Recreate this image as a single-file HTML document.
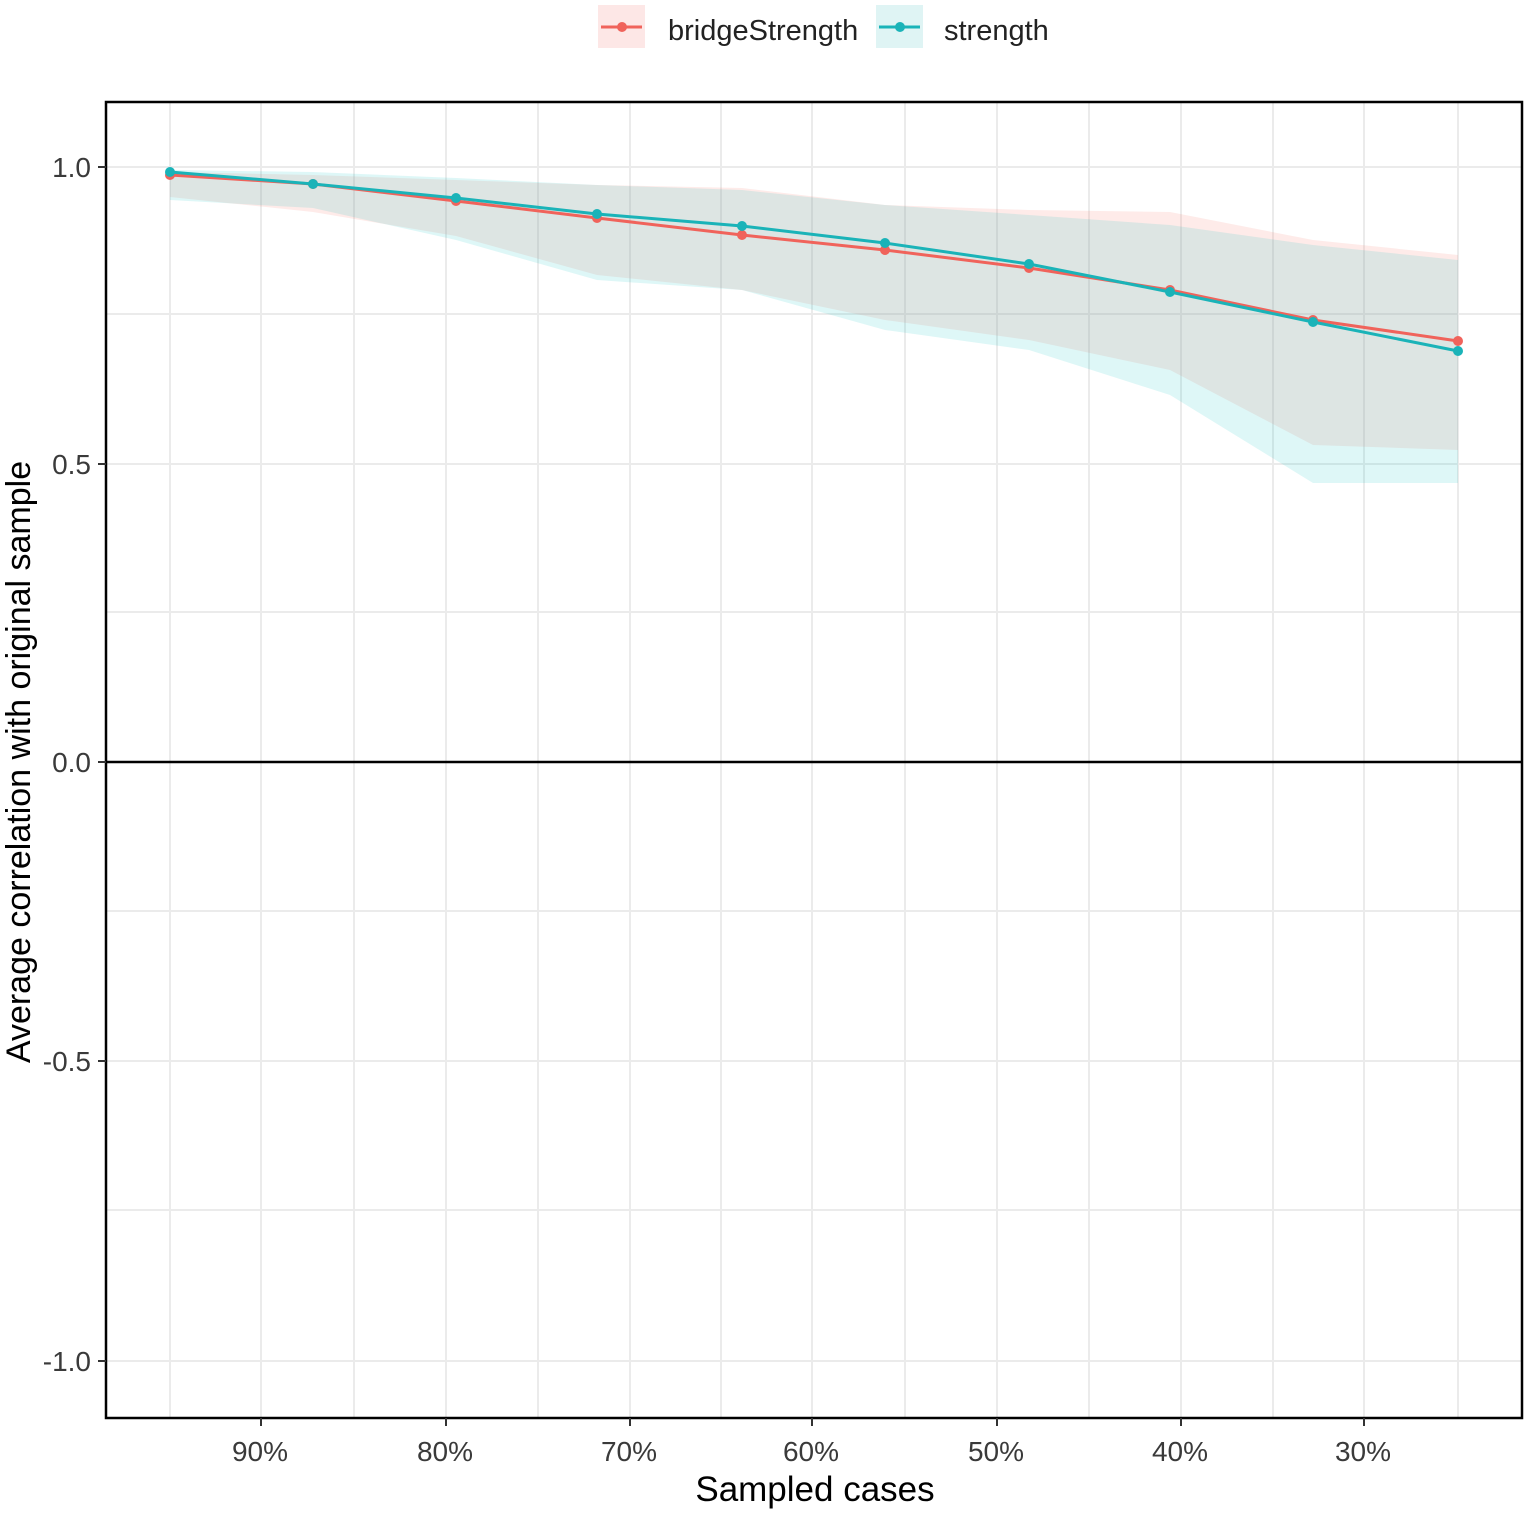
<!DOCTYPE html>
<html><head><meta charset="utf-8"><style>body{margin:0;background:#fff}svg{display:block}text{font-family:"Liberation Sans",sans-serif;fill:#222}</style></head>
<body>
<svg width="1535" height="1519" viewBox="0 0 1535 1519" xmlns="http://www.w3.org/2000/svg">
<rect width="1535" height="1519" fill="#fff"/>
<rect x="598" y="5" width="47" height="43" fill="#fde7e6"/>
<line x1="601" y1="27" x2="642" y2="27" stroke="#f0635b" stroke-width="3"/>
<circle cx="622" cy="27" r="5" fill="#f0635b"/>
<text x="668" y="40" font-size="29">bridgeStrength</text>
<rect x="876" y="5" width="47" height="43" fill="#dff4f4"/>
<line x1="879" y1="27" x2="920" y2="27" stroke="#1ab3b8" stroke-width="3"/>
<circle cx="900" cy="27" r="5" fill="#1ab3b8"/>
<text x="944" y="40" font-size="29">strength</text>
<g stroke="#ebebeb" stroke-width="2">
<line x1="106" x2="1522" y1="314" y2="314"/><line x1="106" x2="1522" y1="612" y2="612"/><line x1="106" x2="1522" y1="911" y2="911"/><line x1="106" x2="1522" y1="1210" y2="1210"/>
<line x1="106" x2="1522" y1="167" y2="167"/><line x1="106" x2="1522" y1="464" y2="464"/><line x1="106" x2="1522" y1="1061" y2="1061"/><line x1="106" x2="1522" y1="1361" y2="1361"/>
<line y1="102" y2="1418" x1="170" x2="170"/><line y1="102" y2="1418" x1="261" x2="261"/><line y1="102" y2="1418" x1="354" x2="354"/><line y1="102" y2="1418" x1="446" x2="446"/><line y1="102" y2="1418" x1="538" x2="538"/><line y1="102" y2="1418" x1="630" x2="630"/><line y1="102" y2="1418" x1="721" x2="721"/><line y1="102" y2="1418" x1="812" x2="812"/><line y1="102" y2="1418" x1="905" x2="905"/><line y1="102" y2="1418" x1="997" x2="997"/><line y1="102" y2="1418" x1="1089" x2="1089"/><line y1="102" y2="1418" x1="1181" x2="1181"/><line y1="102" y2="1418" x1="1273" x2="1273"/><line y1="102" y2="1418" x1="1364" x2="1364"/><line y1="102" y2="1418" x1="1458" x2="1458"/>
</g>
<polygon fill="#f8766d" fill-opacity="0.15" points="170,172 313,175 456,180 597,185 742,188 885,205 1029,210 1170,212 1313,240 1458,255 1458,450 1313,445 1170,370 1029,340 885,320 742,290 597,275 456,236 313,212 170,197"/>
<polygon fill="#00bfc4" fill-opacity="0.13" points="170,170 313,172 456,178 597,185 742,190 885,205 1029,215 1170,225 1313,245 1458,260 1458,483 1313,483 1170,395 1029,350 885,330 742,290 597,280 456,240 313,208 170,200"/>
<line x1="106" x2="1522" y1="762" y2="762" stroke="#000" stroke-width="2.5"/>
<polyline fill="none" stroke="#f0635b" stroke-width="3" points="170,175 313,184 456,201 597,218 742,235 885,250 1029,268 1170,290 1313,320 1458,341"/>
<g fill="#f0635b"><circle cx="170" cy="175" r="5"/><circle cx="313" cy="184" r="5"/><circle cx="456" cy="201" r="5"/><circle cx="597" cy="218" r="5"/><circle cx="742" cy="235" r="5"/><circle cx="885" cy="250" r="5"/><circle cx="1029" cy="268" r="5"/><circle cx="1170" cy="290" r="5"/><circle cx="1313" cy="320" r="5"/><circle cx="1458" cy="341" r="5"/></g>
<polyline fill="none" stroke="#1ab3b8" stroke-width="3" points="170,172 313,184 456,198 597,214 742,226 885,243 1029,264 1170,292 1313,322 1458,351"/>
<g fill="#1ab3b8"><circle cx="170" cy="172" r="5"/><circle cx="313" cy="184" r="5"/><circle cx="456" cy="198" r="5"/><circle cx="597" cy="214" r="5"/><circle cx="742" cy="226" r="5"/><circle cx="885" cy="243" r="5"/><circle cx="1029" cy="264" r="5"/><circle cx="1170" cy="292" r="5"/><circle cx="1313" cy="322" r="5"/><circle cx="1458" cy="351" r="5"/></g>
<rect x="106" y="102" width="1416" height="1316" fill="none" stroke="#000" stroke-width="2.5"/>
<g stroke="#333" stroke-width="2">
<line x1="98" x2="106" y1="167" y2="167"/><line x1="98" x2="106" y1="464" y2="464"/><line x1="98" x2="106" y1="762" y2="762"/><line x1="98" x2="106" y1="1061" y2="1061"/><line x1="98" x2="106" y1="1361" y2="1361"/>
<line y1="1418" y2="1426" x1="261" x2="261"/><line y1="1418" y2="1426" x1="446" x2="446"/><line y1="1418" y2="1426" x1="630" x2="630"/><line y1="1418" y2="1426" x1="812" x2="812"/><line y1="1418" y2="1426" x1="997" x2="997"/><line y1="1418" y2="1426" x1="1181" x2="1181"/><line y1="1418" y2="1426" x1="1364" x2="1364"/>
</g>
<g font-size="28" text-anchor="end">
<text x="91" y="177" style="fill:#3a3a3a">1.0</text><text x="91" y="474" style="fill:#3a3a3a">0.5</text><text x="91" y="772" style="fill:#3a3a3a">0.0</text><text x="91" y="1071" style="fill:#3a3a3a">-0.5</text><text x="91" y="1371" style="fill:#3a3a3a">-1.0</text>
</g>
<g font-size="28" text-anchor="middle">
<text x="260" y="1461" style="fill:#3a3a3a">90%</text><text x="445" y="1461" style="fill:#3a3a3a">80%</text><text x="629" y="1461" style="fill:#3a3a3a">70%</text><text x="811" y="1461" style="fill:#3a3a3a">60%</text><text x="996" y="1461" style="fill:#3a3a3a">50%</text><text x="1180" y="1461" style="fill:#3a3a3a">40%</text><text x="1363" y="1461" style="fill:#3a3a3a">30%</text>
</g>
<text x="815" y="1501" font-size="35" text-anchor="middle" style="fill:#000">Sampled cases</text>
<text transform="translate(30,762) rotate(-90)" font-size="34" text-anchor="middle" style="fill:#000">Average correlation with original sample</text>
</svg>
</body></html>
